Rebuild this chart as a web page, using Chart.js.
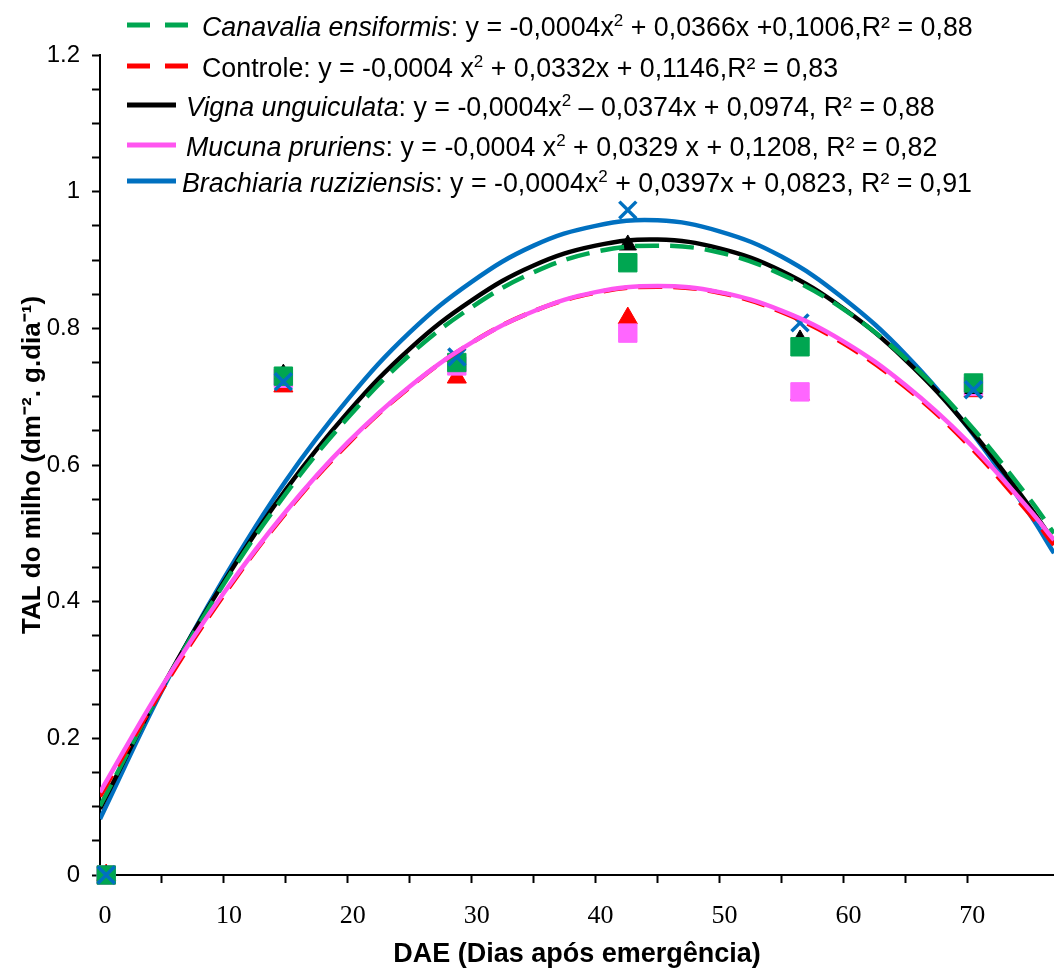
<!DOCTYPE html>
<html>
<head>
<meta charset="utf-8">
<script src="https://cdn.jsdelivr.net/npm/chart.js@4"></script>
<style>
  body { margin: 0; background: #fff; }
  #wrap { position: relative; width: 1054px; height: 975px; }
  #legenda { position: absolute; left: 0; top: 0; font-family: "Liberation Sans", Arial, sans-serif; font-size: 26.8px; color: #000; }
  .linha { position: absolute; white-space: nowrap; line-height: 30px; }
  .linha svg { position: absolute; }
  sup { font-size: 17px; line-height: 0; vertical-align: 10px; }
</style>
</head>
<body>
<div id="wrap">
  <canvas id="grafico" width="1054" height="975"></canvas>
  <div id="legenda"></div>
</div>
<script>
// curvas ajustadas
const curvaX = [0, 5, 10, 15, 20, 25, 30, 35, 40, 45, 50, 55, 60, 65, 70, 75, 77];
const canavaliaCurva = [0.101, 0.273, 0.426, 0.558, 0.669, 0.761, 0.831, 0.882, 0.912, 0.921, 0.911, 0.879, 0.828, 0.756, 0.663, 0.551, 0.500];
const controleCurva = [0.115, 0.271, 0.410, 0.530, 0.631, 0.714, 0.779, 0.825, 0.852, 0.861, 0.852, 0.824, 0.778, 0.714, 0.631, 0.529, 0.483];
const vignaCurva = [0.097, 0.274, 0.429, 0.564, 0.677, 0.770, 0.841, 0.892, 0.921, 0.930, 0.917, 0.884, 0.829, 0.754, 0.657, 0.540, 0.487];
const mucunaCurva = [0.121, 0.276, 0.413, 0.532, 0.633, 0.715, 0.779, 0.825, 0.853, 0.862, 0.853, 0.826, 0.781, 0.717, 0.635, 0.535, 0.490];
const brachiariaCurva = [0.082, 0.270, 0.434, 0.577, 0.696, 0.794, 0.868, 0.921, 0.950, 0.958, 0.942, 0.905, 0.844, 0.762, 0.656, 0.529, 0.471];

// valores observados
const dias = [0.5, 14.8, 28.8, 42.6, 56.5, 70.5];
const canavaliaObs = [0, 0.730, 0.750, 0.896, 0.773, 0.720];
const controleObs = [0, 0.715, 0.728, 0.815, 0.703, 0.708];
const vignaObs = [0, 0.733, 0.752, 0.922, 0.783, 0.712];
const mucunaObs = [0, 0.727, 0.745, 0.793, 0.707, 0.715];
const brachiariaObs = [0, 0.722, 0.758, 0.973, 0.808, 0.710];

const verde = "#00A651", vermelho = "#FF0000", preto = "#000000", rosa = "#FF55F0", azul = "#0070C0";
const sans = '"Liberation Sans", Arial, sans-serif';
const serif = '"Liberation Serif", "Times New Roman", serif';

function pares(xs, ys) { return xs.map((x, i) => ({ x: x, y: ys[i] })); }

function curva(dados, cor, ordem, tracejado) {
  return {
    type: "line", data: pares(curvaX, dados), borderColor: cor, borderWidth: 4.5,
    borderDash: tracejado ? [24, 11] : [], pointRadius: 0, tension: 0.4,
    fill: false, order: ordem
  };
}
function pontos(dados, cor, estilo, raio, ordem) {
  return {
    type: "scatter", data: pares(dias, dados), pointStyle: estilo, pointRadius: raio,
    backgroundColor: cor, borderColor: cor, borderWidth: estilo === "crossRot" ? 3.5 : 1,
    order: ordem, clip: false
  };
}

new Chart(document.getElementById("grafico"), {
  type: "scatter",
  data: {
    datasets: [
      curva(mucunaCurva, rosa, 1, false),
      curva(controleCurva, vermelho, 2, true),
      curva(canavaliaCurva, verde, 3, true),
      curva(vignaCurva, preto, 4, false),
      curva(brachiariaCurva, azul, 5, false),
      pontos(brachiariaObs, azul, "crossRot", 12, 6),
      pontos(canavaliaObs, verde, "rect", 13, 7),
      pontos(vignaObs, preto, "triangle", 10, 8),
      pontos(mucunaObs, "#FF66FF", "rect", 13, 9),
      pontos(controleObs, vermelho, "triangle", 11, 10)
    ]
  },
  options: {
    responsive: false,
    animation: false,
    devicePixelRatio: 1,
    layout: { autoPadding: false, padding: { top: 55, right: 0, left: 0, bottom: 0 } },
    plugins: { legend: { display: false }, tooltip: { enabled: false } },
    scales: {
      x: {
        type: "linear", min: 0, max: 77,
        afterFit: s => { s.height = 100; s.paddingLeft = 0; s.paddingRight = 0; },
        afterBuildTicks: s => { s.ticks = s.ticks.filter(t => Math.abs(t.value / 5 - Math.round(t.value / 5)) < 1e-6); },
        ticks: {
          stepSize: 5, maxTicksLimit: 100, autoSkip: false, maxRotation: 0, padding: 18, labelOffset: 5, color: "#000",
          font: { family: serif, size: 26 },
          callback: v => (Math.round(v) % 10 === 0 ? String(Math.round(v)) : "")
        },
        grid: { drawOnChartArea: false, drawTicks: true, tickLength: 8, color: "#000", tickWidth: 2 },
        border: { color: "#000", width: 2 },
        title: {
          display: true, text: "DAE (Dias após emergência)", color: "#000",
          font: { family: sans, size: 27, weight: "bold" },
          padding: { top: 0, bottom: 4 }
        }
      },
      y: {
        min: 0, max: 1.2,
        afterFit: s => { s.width = 100; s.paddingTop = 0; s.paddingBottom = 0; },
        afterBuildTicks: s => { s.ticks = s.ticks.filter(t => Math.abs(t.value * 20 - Math.round(t.value * 20)) < 1e-6); },
        ticks: {
          stepSize: 0.05, maxTicksLimit: 100, autoSkip: false, padding: 12, color: "#000",
          font: { family: sans, size: 24 },
          callback: v => (Math.abs(v * 5 - Math.round(v * 5)) < 1e-6 ? String(Math.round(v * 10) / 10) : "")
        },
        grid: { drawOnChartArea: false, drawTicks: true, tickLength: 8, color: "#000", tickWidth: 2 },
        border: { color: "#000", width: 2 },
        title: {
          display: true, text: "TAL do milho (dm⁻². g.dia⁻¹)", color: "#000",
          font: { family: sans, size: 26, weight: "bold" },
          padding: { top: 17, bottom: 0 }
        }
      }
    }
  }
});

// legenda com as equações
const legendas = [
  { cor: verde, tracejado: true, topo: 12, texto: 202, html: "<i>Canavalia ensiformis</i>: y = -0,0004x<sup>2</sup> + 0,0366x +0,1006,R² = 0,88" },
  { cor: vermelho, tracejado: true, topo: 53, texto: 202, html: "Controle: y = -0,0004 x<sup>2</sup> + 0,0332x + 0,1146,R² = 0,83" },
  { cor: preto, tracejado: false, topo: 92, texto: 186, html: "<i>Vigna unguiculata</i>: y = -0,0004x<sup>2</sup> – 0,0374x + 0,0974, R² = 0,88" },
  { cor: rosa, tracejado: false, topo: 132, texto: 186, html: "<i>Mucuna pruriens</i>: y = -0,0004 x<sup>2</sup> + 0,0329 x + 0,1208, R² = 0,82" },
  { cor: azul, tracejado: false, topo: 168, texto: 182, html: "<i>Brachiaria ruziziensis</i>: y = -0,0004x<sup>2</sup> + 0,0397x + 0,0823, R² = 0,91" }
];
const caixa = document.getElementById("legenda");
legendas.forEach(l => {
  const d = document.createElement("div");
  d.className = "linha";
  d.style.left = l.texto + "px";
  d.style.top = l.topo + "px";
  d.innerHTML = l.html;
  const fim = l.tracejado ? 188 : 176;
  const svg = '<svg width="70" height="10" style="left:' + (127 - l.texto) + 'px;top:8px">' +
    '<line x1="0" y1="5" x2="' + (fim - 127) + '" y2="5" stroke="' + l.cor + '" stroke-width="5"' +
    (l.tracejado ? ' stroke-dasharray="23 15"' : '') + '/></svg>';
  d.insertAdjacentHTML("afterbegin", svg);
  caixa.appendChild(d);
});
</script>
</body>
</html>
